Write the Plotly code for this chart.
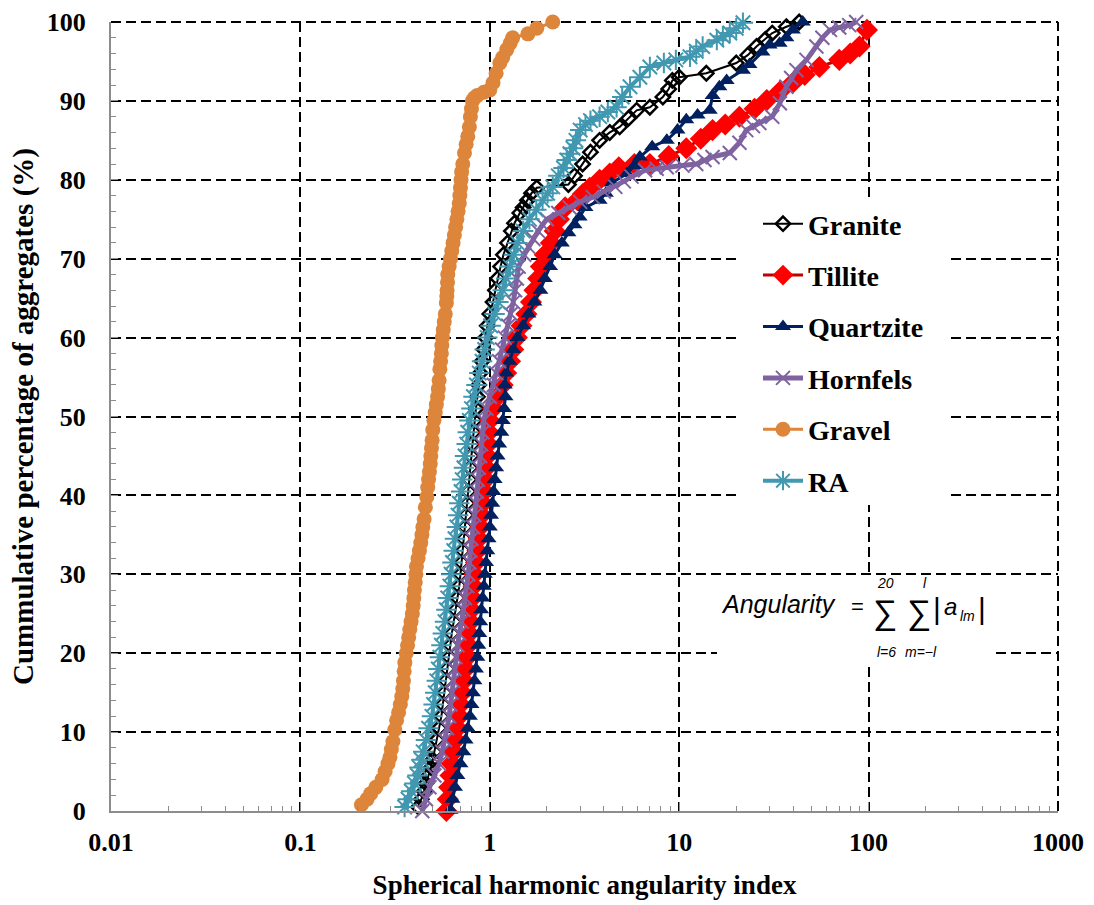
import plotly.graph_objects as go

# cumulative percentage (y) vs spherical harmonic angularity index (x)
granite_y = [0.5, 1.5, 2.5, 3.5, 4.5, 5.5, 6.5, 7.5, 9, 10.5, 12, 13.5, 15, 16.5, 18, 19.5, 21,
             22.5, 24, 25.5, 27, 28.5, 30, 31.5, 33, 34.5, 36, 37.5, 39, 40.5, 42, 43.5, 45,
             46.5, 48, 49.5, 51, 52.5, 54, 55.5, 57, 58.5, 60, 61.5, 63, 64.5, 66, 67.5, 69,
             70.5, 72, 73.5, 74.5, 75.8, 76.5, 77.4, 78.3, 79, 79.4, 80.5, 82, 83.5, 85, 86,
             86.7, 87.8, 88.8, 89.2, 90.5, 91.5, 92.6, 93, 93.5, 94.8, 95.8, 96.9, 97.8, 98.6,
             99.4, 100]
granite_x = [0.42, 0.435, 0.45, 0.46, 0.475, 0.49, 0.5, 0.51, 0.525, 0.54, 0.555, 0.565, 0.575,
             0.585, 0.595, 0.61, 0.62, 0.63, 0.645, 0.66, 0.675, 0.69, 0.7, 0.71, 0.72, 0.73,
             0.74, 0.75, 0.76, 0.77, 0.78, 0.79, 0.8, 0.81, 0.82, 0.83, 0.845, 0.86, 0.875, 0.89,
             0.91, 0.93, 0.95, 0.97, 1.0, 1.04, 1.07, 1.1, 1.14, 1.18, 1.24, 1.3, 1.35, 1.44, 1.5,
             1.58, 1.66, 1.77, 2.6, 2.8, 3.09, 3.4, 3.8, 4.3, 4.85, 5.4, 5.96, 7.0, 8.2, 8.8, 9.2,
             10.0, 13.9, 20.0, 23.0, 25.6, 28.5, 31.0, 36.8, 43.0]

tillite_y = [0, 1.5, 3, 4.5, 6, 7.5, 9, 10.5, 12, 13.5, 15, 16.5, 18, 19.5, 21, 22.5, 24, 25.5,
             27, 28.5, 30, 31.5, 33, 34.5, 36, 37.5, 39, 40.5, 42, 43.5, 45, 46.5, 48, 49.5, 51,
             52.5, 54, 55.5, 57, 58.5, 60, 61.5, 63, 64.5, 66, 67.5, 69, 70.5, 72, 73.5, 75, 76.5,
             77.4, 78.2, 79, 80, 80.8, 81.6, 82, 82, 83, 84, 85.2, 86.3, 87, 88, 89, 90.1, 91.2,
             92.3, 93.3, 94.3, 95.2, 96, 96.9, 99]
tillite_x = [0.59, 0.6, 0.61, 0.62, 0.63, 0.645, 0.66, 0.675, 0.69, 0.7, 0.715, 0.73, 0.745, 0.76,
             0.77, 0.78, 0.79, 0.8, 0.81, 0.82, 0.83, 0.845, 0.86, 0.875, 0.89, 0.905, 0.92, 0.935,
             0.95, 0.96, 0.97, 0.98, 0.99, 1.0, 1.04, 1.1, 1.17, 1.22, 1.28, 1.33, 1.39, 1.47,
             1.56, 1.65, 1.72, 1.8, 1.86, 1.95, 2.1, 2.2, 2.32, 2.5, 2.9, 3.1, 3.37, 3.8, 4.3, 4.8,
             5.8, 7.0, 8.8, 10.9, 13.0, 15.0, 17.5, 20.8, 25.0, 29.0, 34.0, 39.8, 46.0, 55.0, 70.0,
             80.0, 89.5, 98.0]

quartzite_y = [0.1, 1.5, 3, 4.5, 6, 7.5, 9, 10.5, 12, 13.5, 15, 16.5, 18, 19.5, 21, 22.5, 24,
               25.5, 27, 28.5, 30, 31.5, 33, 34.5, 36, 37.5, 39, 40.5, 42, 43.5, 45, 46.5, 48,
               49.5, 51, 52.5, 54, 55.5, 57, 58.5, 60, 61.5, 63, 64.5, 66, 67.5, 69, 70.5, 72,
               73.3, 74.3, 75.3, 76.5, 77.4, 78.3, 79.6, 80.8, 81.8, 82.9, 84.2, 85, 86.3, 87.6,
               88.2, 88.8, 90.7, 91.8, 92.6, 93.9, 94.6, 96.2, 97.1, 97.3, 98, 99, 100]
quartzite_x = [0.62, 0.635, 0.655, 0.675, 0.7, 0.725, 0.745, 0.765, 0.785, 0.8, 0.815, 0.83,
               0.845, 0.86, 0.87, 0.88, 0.89, 0.9, 0.915, 0.93, 0.94, 0.955, 0.97, 0.985, 1.0,
               1.015, 1.03, 1.045, 1.06, 1.08, 1.1, 1.12, 1.15, 1.17, 1.19, 1.21, 1.2, 1.22, 1.27,
               1.33, 1.4, 1.5, 1.6, 1.72, 1.85, 1.95, 2.08, 2.2, 2.4, 2.6, 2.8, 2.98, 3.2, 3.8,
               4.1, 4.4, 5.3, 5.8, 6.2, 7.2, 8.6, 9.8, 10.9, 12.5, 14.5, 15.0, 16.3, 17.8, 21.7,
               23.5, 27.5, 30.0, 33.9, 36.8, 39.8, 44.9]

hornfels_y = [0, 1.5, 3, 4.5, 6, 7.5, 9, 10.5, 12, 13.5, 15, 16.5, 18, 19.5, 21, 22.5, 24, 25.5,
              27, 28.5, 30, 31.5, 33, 34.5, 36, 37.5, 39, 40.5, 42, 43.5, 45, 46.5, 48, 49.5, 51,
              52.5, 54, 55.5, 57, 58.5, 60, 61.5, 63, 64.5, 66, 67.5, 69, 70.5, 71.5, 72.5, 73.5,
              74.3, 75, 75.8, 76.5, 77.2, 77.8, 78.5, 79.1, 79.8, 80.4, 81.2, 81.4, 81.6, 81.8,
              82, 82.5, 82.9, 83.4, 84.7, 86.3, 86.8, 87.2, 88, 89.7, 91.8, 92.9, 93.9, 95.2,
              96.9, 98, 99, 99.3, 99.6, 100]
hornfels_x = [0.44, 0.46, 0.48, 0.51, 0.54, 0.56, 0.58, 0.595, 0.61, 0.62, 0.63, 0.64, 0.65,
              0.66, 0.675, 0.69, 0.71, 0.725, 0.74, 0.76, 0.77, 0.78, 0.79, 0.8, 0.815, 0.83,
              0.845, 0.855, 0.865, 0.875, 0.89, 0.9, 0.915, 0.93, 0.96, 1.0, 1.05, 1.08, 1.12,
              1.16, 1.2, 1.25, 1.29, 1.33, 1.36, 1.39, 1.42, 1.52, 1.6, 1.7, 1.8, 1.9, 2.0, 2.3,
              2.64, 3.0, 3.5, 4.0, 4.6, 5.1, 5.6, 6.6, 7.6, 8.6, 10.4, 12.3, 13.6, 15.0, 18.5, 20.8,
              22.6, 24.5, 26.5, 31.0, 34.0, 36.8, 39.0, 41.6, 47.0, 53.0, 57.0, 62.5, 70.0, 79.0,
              86.0]

gravel_y = [0.8, 1.5, 2.2, 3, 4, 5, 6, 6.8, 7.8, 8.8, 10.3, 11.5, 12.5, 13.5, 14.5, 15.5, 16.5,
            17.7, 18.8, 20, 21, 22, 23, 24, 25, 26, 27, 28, 29, 30, 31, 32, 33, 34, 35, 36, 37,
            38.5, 39.8, 41, 42, 43, 44, 45, 46, 47, 48.3, 49.5, 50.5, 51.5, 52.5, 53.5, 54.6, 56,
            57, 58, 59, 60, 61, 62, 63, 64.4, 65.2, 66, 67, 68, 69, 70, 71, 72, 73, 74, 75, 76,
            77, 78, 79, 80, 81, 82, 83.4, 84.5, 85.5, 86.7, 88, 89, 90, 90.4, 90.7, 91.1, 91.4,
            92.3, 93.5, 94.8, 95.5, 96.5, 97.3, 98, 98.5, 99.2, 100]
gravel_x = [0.21, 0.225, 0.235, 0.25, 0.27, 0.28, 0.29, 0.297, 0.302, 0.308, 0.315, 0.322, 0.33,
            0.337, 0.343, 0.347, 0.35, 0.353, 0.356, 0.362, 0.368, 0.373, 0.378, 0.384, 0.39,
            0.394, 0.397, 0.4, 0.404, 0.407, 0.41, 0.418, 0.425, 0.432, 0.438, 0.443, 0.45, 0.457,
            0.465, 0.47, 0.475, 0.48, 0.485, 0.488, 0.492, 0.496, 0.5, 0.507, 0.515, 0.522, 0.53,
            0.535, 0.54, 0.545, 0.55, 0.555, 0.558, 0.562, 0.568, 0.575, 0.582, 0.59, 0.593,
            0.595, 0.598, 0.6, 0.61, 0.62, 0.63, 0.64, 0.65, 0.66, 0.67, 0.68, 0.69, 0.695, 0.7,
            0.705, 0.71, 0.72, 0.735, 0.75, 0.765, 0.78, 0.79, 0.8, 0.81, 0.83, 0.86, 0.93, 1.0,
            1.04, 1.08, 1.13, 1.17, 1.23, 1.28, 1.32, 1.59, 1.77, 2.15]

ra_y = [0.5, 1.5, 2.5, 3.5, 4.5, 5.5, 6.5, 7.5, 9, 10.5, 12, 13.5, 15, 16.5, 18, 19.5, 21, 22.5,
        24, 25.5, 27, 28.5, 30, 31.5, 33, 34.5, 36, 37.5, 39, 40.5, 42, 43.5, 45, 46.5, 48, 49.5,
        51, 52.5, 54, 55.5, 57, 58.5, 60, 61.5, 63, 64.5, 66, 67.5, 69, 70.5, 72, 73.5, 75,
        76.2, 77.4, 78.3, 79.1, 80.5, 81.5, 82.5, 83.3, 84, 85, 86.3, 87, 87.5, 88, 88.6, 89.2,
        90.5, 91.8, 93, 94.3, 94.8, 95.2, 95.6, 96.3, 96.9, 97.7, 98.2, 98.6, 99.2, 99.9]
ra_x = [0.355, 0.37, 0.385, 0.4, 0.415, 0.425, 0.435, 0.445, 0.46, 0.475, 0.495, 0.505, 0.515,
        0.525, 0.535, 0.545, 0.555, 0.565, 0.58, 0.59, 0.6, 0.615, 0.625, 0.635, 0.645, 0.655,
        0.67, 0.68, 0.69, 0.705, 0.715, 0.73, 0.74, 0.755, 0.765, 0.78, 0.8, 0.82, 0.85, 0.88,
        0.91, 0.94, 0.97, 1.01, 1.06, 1.11, 1.17, 1.22, 1.28, 1.34, 1.4, 1.5, 1.62, 1.76, 1.9,
        2.02, 2.15, 2.3, 2.45, 2.55, 2.65, 2.75, 2.85, 3.0, 3.2, 3.4, 3.8, 4.2, 4.67, 5.0, 5.5,
        6.2, 7.0, 8.3, 9.6, 11.4, 12.3, 13.3, 15.8, 17.0, 18.5, 20.0, 21.7]

x_tick_vals = [0.01, 0.1, 1, 10, 100, 1000]
x_tick_text = ['0.01', '0.1', '1', '10', '100', '1000']

series = [
    ('Granite', granite_x, granite_y, dict(symbol='diamond-open', size=11, color='black',
                                           line=dict(width=2.5, color='black')), 'black', 2),
    ('Tillite', tillite_x, tillite_y, dict(symbol='diamond', size=17, color='#FF0000'), '#C00000', 3),
    ('Quartzite', quartzite_x, quartzite_y, dict(symbol='triangle-up', size=14, color='#002060'), '#002060', 3),
    ('Hornfels', hornfels_x, hornfels_y, dict(symbol='x-thin-open', size=14, color='#7F63A0',
                                             line=dict(width=2, color='#7F63A0')), '#7F63A0', 5),
    ('Gravel', gravel_x, gravel_y, dict(symbol='circle', size=15, color='#DD853A'), '#DD853A', 3),
    ('RA', ra_x, ra_y, dict(symbol='asterisk-open', size=17, color='#4198B0',
                            line=dict(width=2, color='#4198B0')), '#4198B0', 4),
]

fig = go.Figure()
for name, xs, ys, marker, lcolor, lwidth in series:
    fig.add_trace(go.Scatter(x=xs, y=ys, name=name, mode='lines+markers', marker=marker,
                             line=dict(color=lcolor, width=lwidth), legendgroup=name,
                             cliponaxis=False))

serif = 'Liberation Serif'
tick_font = dict(family=serif, size=26, color='black', weight='bold')
grid_dash = '10px,5px'

L, R, T, B = 111, 1058, 22, 811


def pp(px, py):
    # pixel -> paper coordinates
    return (px - L) / (R - L), (B - py) / (B - T)


# gridlines on the top and right edges of the plot area
fig.add_shape(type='line', xref='paper', yref='paper', x0=0, x1=1, y0=1, y1=1,
              line=dict(color='black', width=2, dash=grid_dash), layer='between')
fig.add_shape(type='line', xref='paper', yref='paper', x0=1, x1=1, y0=0, y1=1,
              line=dict(color='black', width=2, dash=grid_dash), layer='between')

# white boxes behind the legend and the equation
for (ax0, ay0, ax1, ay1) in [(738, 505, 947, 197), (717, 662, 993, 577)]:
    x0, y0 = pp(ax0, ay0)
    x1, y1 = pp(ax1, ay1)
    fig.add_shape(type='rect', xref='paper', yref='paper', x0=x0, y0=y0, x1=x1, y1=y1,
                  fillcolor='white', line=dict(width=0), layer='above')

eq_parts = [
    ('Angularity', 778, 604, 25, True),
    ('=', 857, 606, 22, False),
    ('\u2211', 885, 612, 34, False),
    ('20', 885, 583, 14, True),
    ('l=6', 886, 652, 14, True),
    ('\u2211', 919, 612, 34, False),
    ('l', 925, 583, 14, True),
    ('m=\u2212l', 921, 652, 14, True),
    ('|', 937, 608, 30, False),
    ('a', 950, 606, 24, True),
    ('lm', 967, 616, 14, True),
    ('|', 982, 608, 30, False),
]
for txt, px, py, size, ital in eq_parts:
    ax, ay = pp(px, py)
    fig.add_annotation(x=ax, y=ay, xref='paper', yref='paper', text=txt, showarrow=False,
                       xanchor='center', yanchor='middle',
                       font=dict(family='Liberation Sans', size=size, color='black',
                                 style='italic' if ital else 'normal'))

lx, ly = pp(758, 199)
fig.update_layout(
    width=1094, height=905,
    margin=dict(l=L, r=1094 - R, t=T, b=905 - B),
    paper_bgcolor='white', plot_bgcolor='white',
    showlegend=True,
    legend=dict(x=lx, y=ly, xanchor='left', yanchor='top', bgcolor='rgba(0,0,0,0)',
                font=dict(family=serif, size=28, color='black', weight='bold'),
                tracegroupgap=12, traceorder='grouped', itemwidth=40),
    xaxis=dict(
        type='log', range=[-2, 3], tickvals=x_tick_vals, ticktext=x_tick_text,
        showgrid=True, gridcolor='black', griddash=grid_dash, gridwidth=2,
        showline=True, linecolor='#8C8C8C', linewidth=2, automargin=False,
        ticks='inside', ticklen=9, tickwidth=1, tickcolor='#8C8C8C',
        minor=dict(ticks='inside', ticklen=5, tickcolor='#8C8C8C', showgrid=False,
                   tickvals=[m * 10 ** e for e in range(-2, 3) for m in range(2, 10)]),
        tickfont=tick_font, ticklabelstandoff=7, zeroline=False,
        title=dict(text='Spherical harmonic angularity index',
                   font=dict(family=serif, size=27, color='black', weight='bold'), standoff=19),
    ),
    yaxis=dict(
        range=[0, 100], dtick=10,
        showgrid=True, gridcolor='black', griddash=grid_dash, gridwidth=2,
        showline=True, linecolor='#8C8C8C', linewidth=2, automargin=False,
        ticks='inside', ticklen=7, tickwidth=1, tickcolor='#8C8C8C',
        minor=dict(ticks='inside', ticklen=5, tickcolor='#8C8C8C', dtick=2, showgrid=False),
        tickfont=tick_font, ticklabelstandoff=18, zeroline=False,
        title=dict(text='Cummulative percentage of aggregates (%)',
                   font=dict(family=serif, size=29, color='black', weight='bold'), standoff=5),
    ),
)

fig.write_html('out.html', config={'displayModeBar': False},
               post_script="document.body.style.margin='0px';")
